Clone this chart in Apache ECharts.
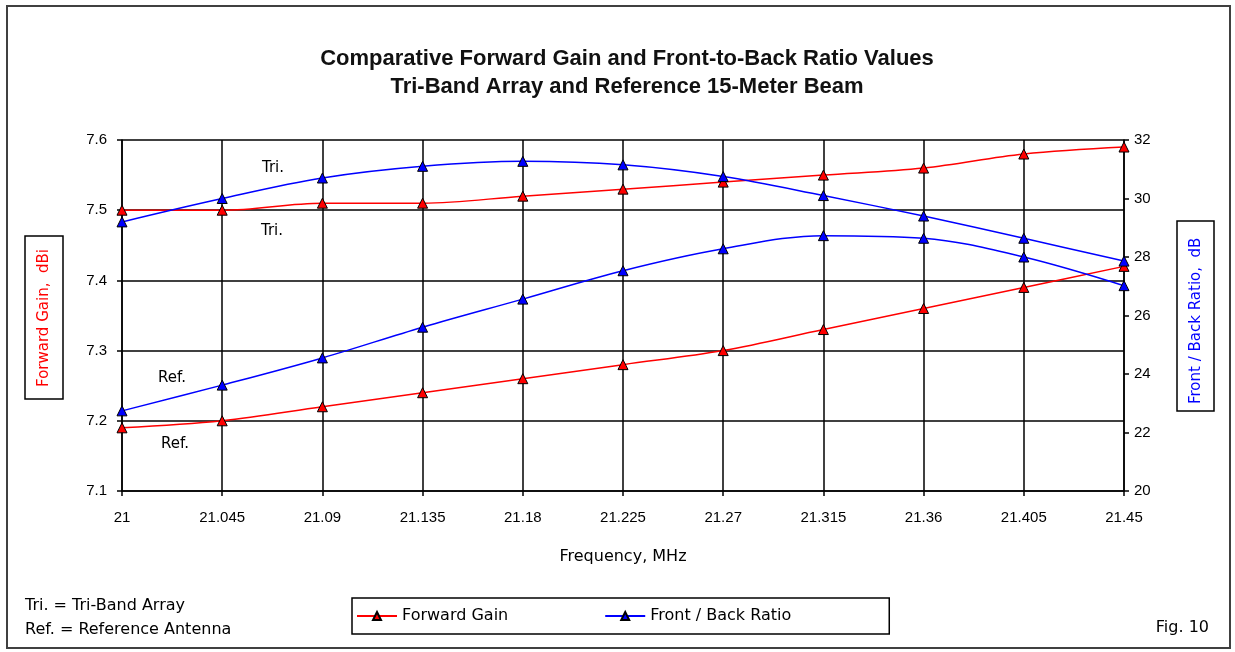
<!DOCTYPE html>
<html>
<head>
<meta charset="utf-8">
<script src="https://cdn.jsdelivr.net/npm/echarts@6/dist/echarts.min.js"></script>
<style>
html,body{margin:0;padding:0;background:#fff;}
#main{width:1235px;height:652px;}
</style>
</head>
<body>
<div id="main"></div>
<script>
var frequencies = ['21','21.045','21.09','21.135','21.18','21.225','21.27','21.315','21.36','21.405','21.45'];
var triGain = [7.50, 7.50, 7.51, 7.51, 7.52, 7.53, 7.54, 7.55, 7.56, 7.58, 7.59];
var refGain = [7.19, 7.20, 7.22, 7.24, 7.26, 7.28, 7.30, 7.33, 7.36, 7.39, 7.42];
var triFB = [29.2, 30.0, 30.7, 31.1, 31.27, 31.15, 30.75, 30.1, 29.4, 28.64, 27.86];
var refFB = [22.74, 23.62, 24.55, 25.6, 26.56, 27.53, 28.28, 28.73, 28.64, 28.0, 27.02];

var FONT = '"Liberation Sans", Arial, sans-serif';
var WFONT = '"DejaVu Sans", Verdana, sans-serif';
var chart = echarts.init(document.getElementById('main'), null, {renderer:'canvas'});

function mkSeries(name, data, color, yIdx){
  return {
    name: name, type: 'line', yAxisIndex: yIdx, data: data,
    smooth: 0.35, symbol: 'triangle', symbolSize: 10,
    lineStyle: {color: color, width: 1.5},
    itemStyle: {color: color, borderColor: '#000', borderWidth: 1},
    emphasis: {disabled: true}, z: yIdx === 1 ? 4 : 3
  };
}

var option = {
  animation: false,
  backgroundColor: '#fff',
  textStyle: {fontFamily: FONT},
  title: {
    text: 'Comparative Forward Gain and Front-to-Back Ratio Values\nTri-Band Array and Reference 15-Meter Beam',
    left: 622, textAlign: 'center', top: 40,
    textStyle: {fontFamily: FONT, fontSize: 22, fontWeight: 'bold', color: '#111', lineHeight: 28}
  },
  grid: {left: 122, right: 111, top: 140, bottom: 161},
  legend: {
    data: ['Forward Gain', 'Front / Back Ratio'],
    left: 352, top: 598, width: 700,
    orient: 'horizontal',
    borderColor: '#000', borderWidth: 1.5,
    padding: [10, 98, 10, 4],
    itemGap: 96, itemWidth: 40, itemHeight: 10,
    textStyle: {fontFamily: WFONT, fontSize: 16, color: '#000'}
  },
  xAxis: {
    type: 'category', data: frequencies, boundaryGap: false,
    name: 'Frequency, MHz', nameLocation: 'middle', nameGap: 58,
    nameTextStyle: {fontFamily: WFONT, fontSize: 16, color: '#000'},
    axisLine: {lineStyle: {color: '#000', width: 1.5}},
    axisTick: {show: true, length: 5, lineStyle: {color: '#000', width: 1.5}},
    axisLabel: {fontFamily: FONT, fontSize: 15, color: '#000', margin: 19},
    splitLine: {show: true, lineStyle: {color: '#000', width: 1.5}}
  },
  yAxis: [
    {
      type: 'value', min: 7.1, max: 7.6, interval: 0.1, position: 'left',
      axisLine: {show: true, lineStyle: {color: '#000', width: 1.5}},
      axisTick: {show: true, length: 5, lineStyle: {color: '#000', width: 1.5}},
      axisLabel: {fontFamily: FONT, fontSize: 15, color: '#000', margin: 15,
        formatter: function(v){return v.toFixed(1);}},
      splitLine: {show: true, lineStyle: {color: '#000', width: 1.5}}
    },
    {
      type: 'value', min: 20, max: 32, interval: 2, position: 'right',
      axisLine: {show: true, lineStyle: {color: '#000', width: 1.5}},
      axisTick: {show: true, length: 5, lineStyle: {color: '#000', width: 1.5}},
      axisLabel: {fontFamily: FONT, fontSize: 15, color: '#000', margin: 10},
      splitLine: {show: false}
    }
  ],
  series: [
    mkSeries('Forward Gain', triGain, '#ff0000', 0),
    mkSeries('Forward Gain', refGain, '#ff0000', 0),
    mkSeries('Front / Back Ratio', triFB, '#0000ff', 1),
    mkSeries('Front / Back Ratio', refFB, '#0000ff', 1)
  ],
  graphic: [
    {type: 'rect', shape: {x: 7, y: 6, width: 1223, height: 642}, style: {fill: 'none', stroke: '#404040', lineWidth: 2}, silent: true, z: -1},
    {type: 'rect', shape: {x: 25, y: 236, width: 38, height: 163}, style: {fill: '#fff', stroke: '#000', lineWidth: 1.5}, silent: true},
    {type: 'text', x: 44, y: 318, rotation: Math.PI/2,
      style: {text: 'Forward Gain,  dBi', fill: '#ff0000', font: '15px ' + WFONT, align: 'center', verticalAlign: 'middle'}},
    {type: 'rect', shape: {x: 1177, y: 221, width: 37, height: 190}, style: {fill: '#fff', stroke: '#000', lineWidth: 1.5}, silent: true},
    {type: 'text', x: 1196, y: 404, rotation: Math.PI/2,
      style: {text: 'Front / Back Ratio,  dB', fill: '#0000ff', font: '15px ' + WFONT, align: 'left', verticalAlign: 'middle', width: 182, overflow: 'truncate', ellipsis: ''}},
    {type: 'text', x: 273, y: 168, style: {text: 'Tri.', fill: '#000', font: '15px ' + WFONT, align: 'center', verticalAlign: 'middle'}},
    {type: 'text', x: 272, y: 231, style: {text: 'Tri.', fill: '#000', font: '15px ' + WFONT, align: 'center', verticalAlign: 'middle'}},
    {type: 'text', x: 172, y: 378, style: {text: 'Ref.', fill: '#000', font: '15px ' + WFONT, align: 'center', verticalAlign: 'middle'}},
    {type: 'text', x: 175, y: 444, style: {text: 'Ref.', fill: '#000', font: '15px ' + WFONT, align: 'center', verticalAlign: 'middle'}},
    {type: 'text', x: 25, y: 606, style: {text: 'Tri. = Tri-Band Array', fill: '#000', font: '16px ' + WFONT, align: 'left', verticalAlign: 'middle'}},
    {type: 'text', x: 25, y: 630, style: {text: 'Ref. = Reference Antenna', fill: '#000', font: '16px ' + WFONT, align: 'left', verticalAlign: 'middle'}},
    {type: 'text', x: 1209, y: 628, style: {text: 'Fig. 10', fill: '#000', font: '16px ' + WFONT, align: 'right', verticalAlign: 'middle'}}
  ]
};
chart.setOption(option);
</script>
</body>
</html>
